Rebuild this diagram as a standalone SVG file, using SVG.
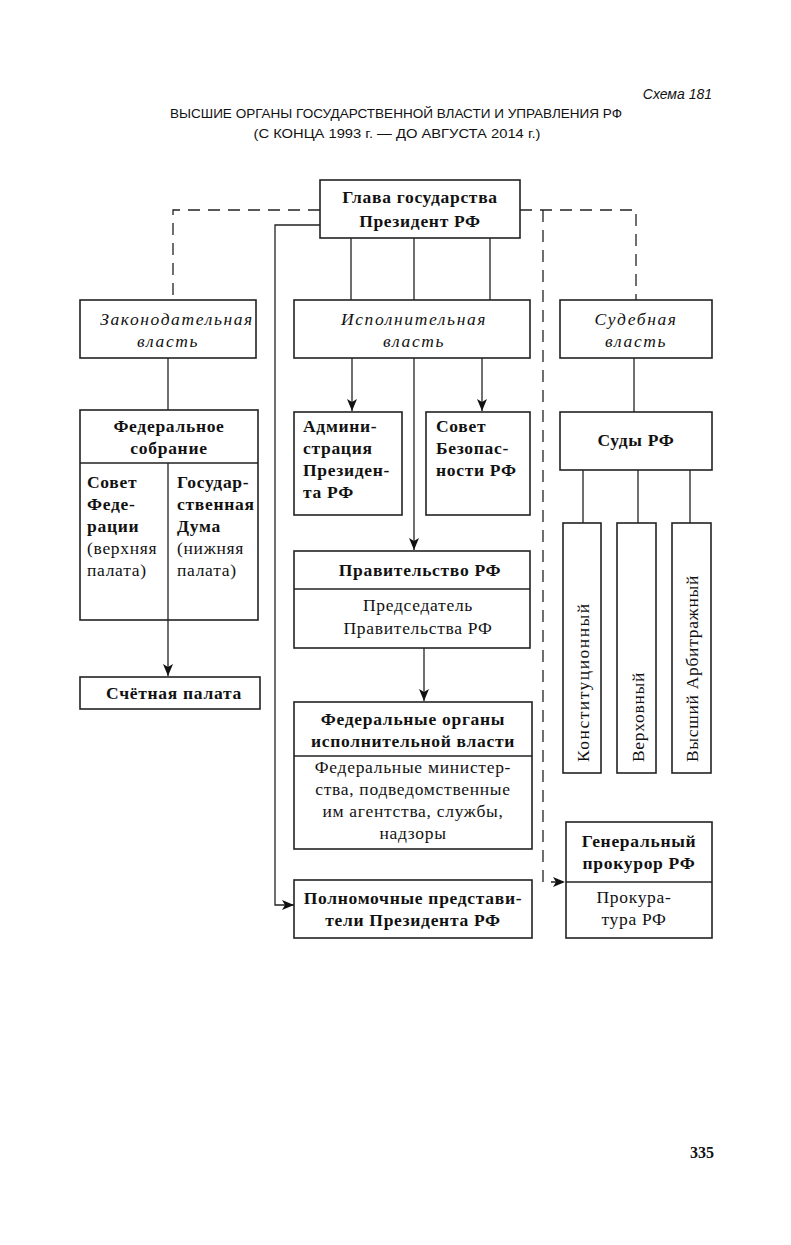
<svg xmlns="http://www.w3.org/2000/svg" width="791" height="1245" viewBox="0 0 791 1245">
<style>
.b{fill:#fff;stroke:#222;stroke-width:1.6}
.l{stroke:#222;stroke-width:1.3;fill:none}
.d{stroke:#222;stroke-width:1.3;fill:none;stroke-dasharray:12 8}
text{font-family:"Liberation Serif","DejaVu Serif",serif;font-size:17.5px;letter-spacing:0.7px;fill:#111}
.bo{font-weight:bold}
.it{font-style:italic;letter-spacing:1.6px}
.c{text-anchor:middle}
.h{font-family:"Liberation Sans","DejaVu Sans",sans-serif;font-size:13px;letter-spacing:0}
</style>
<defs>
<marker id="v" markerWidth="12" markerHeight="14" refX="12" refY="6" orient="auto" markerUnits="userSpaceOnUse" viewBox="0 0 12 12">
<path d="M0,1 L12,6 L0,11 L3,6 Z" fill="#111"/>
</marker>
</defs>
<rect width="791" height="1245" fill="#fff"/>
<g id="title">
<text class="h it" x="712" y="99" text-anchor="end" style="letter-spacing:0;font-size:14px">Схема 181</text>
<text class="h c" x="396" y="118" textLength="452" lengthAdjust="spacingAndGlyphs">ВЫСШИЕ ОРГАНЫ ГОСУДАРСТВЕННОЙ ВЛАСТИ И УПРАВЛЕНИЯ РФ</text>
<text class="h c" x="397" y="138" textLength="287" lengthAdjust="spacingAndGlyphs">(С КОНЦА 1993 г. — ДО АВГУСТА 2014 г.)</text>
</g>
<g id="connectors">
<path class="d" d="M320,210 H173 V300"/>
<path class="d" d="M520,210 H636 V300"/>
<path class="d" d="M543,210 V882 H565" marker-end="url(#v)"/>
<path class="l" d="M320,225 H275 V905 H294" marker-end="url(#v)"/>
<path class="l" d="M351,238 V300 M414,238 V300 M490,238 V300"/>
<path class="l" d="M168,358 V410"/>
<path class="l" d="M168,620 V676" marker-end="url(#v)"/>
<path class="l" d="M352,358 V411" marker-end="url(#v)"/>
<path class="l" d="M482,358 V411" marker-end="url(#v)"/>
<path class="l" d="M414,358 V550" marker-end="url(#v)"/>
<path class="l" d="M424,648 V701" marker-end="url(#v)"/>
<path class="l" d="M634,358 V412"/>
<path class="l" d="M583,470 V523 M638,470 V523 M690,470 V523"/>
</g>
<g id="head">
<rect class="b" x="320" y="180" width="200" height="58"/>
<text class="bo c" x="420" y="203">Глава государства</text>
<text class="bo c" x="420" y="227">Президент РФ</text>
</g>
<g id="legislative">
<rect class="b" x="80" y="300" width="176" height="58"/>
<text class="it c" x="177" y="325">Законодательная</text>
<text class="it c" x="168" y="347">власть</text>
</g>
<g id="executive">
<rect class="b" x="294" y="300" width="236" height="58"/>
<text class="it c" x="414" y="325">Исполнительная</text>
<text class="it c" x="414" y="347">власть</text>
</g>
<g id="judicial">
<rect class="b" x="560" y="300" width="152" height="58"/>
<text class="it c" x="636" y="325">Судебная</text>
<text class="it c" x="636" y="347">власть</text>
</g>
<g id="federal-assembly">
<rect class="b" x="80" y="410" width="178" height="210"/>
<path class="l" d="M80,463 H258 M168,463 V620"/>
<text class="bo c" x="169" y="432">Федеральное</text>
<text class="bo c" x="169" y="454">собрание</text>
<text class="bo" x="87" y="488">Совет</text>
<text class="bo" x="87" y="510">Феде-</text>
<text class="bo" x="87" y="532">рации</text>
<text x="87" y="554">(верхняя</text>
<text x="87" y="576">палата)</text>
<text class="bo" x="177" y="488">Государ-</text>
<text class="bo" x="177" y="510">ственная</text>
<text class="bo" x="177" y="532">Дума</text>
<text x="177" y="554">(нижняя</text>
<text x="177" y="576">палата)</text>
</g>
<g id="audit-chamber">
<rect class="b" x="80" y="677" width="180" height="32"/>
<text class="bo c" x="174" y="699">Счётная палата</text>
</g>
<g id="administration">
<rect class="b" x="294" y="412" width="108" height="103"/>
<text class="bo" x="303" y="432">Админи-</text>
<text class="bo" x="303" y="454">страция</text>
<text class="bo" x="303" y="476">Президен-</text>
<text class="bo" x="303" y="498">та РФ</text>
</g>
<g id="security-council">
<rect class="b" x="426" y="412" width="104" height="103"/>
<text class="bo" x="436" y="432">Совет</text>
<text class="bo" x="436" y="454">Безопас-</text>
<text class="bo" x="436" y="476">ности РФ</text>
</g>
<g id="government">
<rect class="b" x="294" y="551" width="236" height="97"/>
<path class="l" d="M294,589 H530"/>
<text class="bo c" x="420" y="576">Правительство РФ</text>
<text class="c" x="418" y="611">Председатель</text>
<text class="c" x="418" y="634">Правительства РФ</text>
</g>
<g id="federal-bodies">
<rect class="b" x="294" y="702" width="238" height="147"/>
<path class="l" d="M294,756 H532"/>
<text class="bo c" x="413" y="725">Федеральные органы</text>
<text class="bo c" x="413" y="747">исполнительной власти</text>
<text class="c" x="413" y="773">Федеральные министер-</text>
<text class="c" x="413" y="795">ства, подведомственные</text>
<text class="c" x="413" y="817">им агентства, службы,</text>
<text class="c" x="413" y="839">надзоры</text>
</g>
<g id="envoys">
<rect class="b" x="294" y="880" width="238" height="58"/>
<text class="bo c" x="413" y="904">Полномочные представи-</text>
<text class="bo c" x="413" y="926">тели  Президента РФ</text>
</g>
<g id="courts">
<rect class="b" x="560" y="412" width="152" height="58"/>
<text class="bo c" x="636" y="446">Суды РФ</text>
</g>
<g id="constitutional">
<rect class="b" x="563" y="523" width="38" height="250"/>
<text transform="translate(589,762) rotate(-90)" style="letter-spacing:1.5px">Конституционный</text>
</g>
<g id="supreme">
<rect class="b" x="617" y="523" width="39" height="250"/>
<text transform="translate(644,762) rotate(-90)">Верховный</text>
</g>
<g id="arbitration">
<rect class="b" x="672" y="523" width="39" height="250"/>
<text transform="translate(698,762) rotate(-90)">Высший Арбитражный</text>
</g>
<g id="prosecutor">
<rect class="b" x="566" y="822" width="146" height="116"/>
<path class="l" d="M566,882 H712"/>
<text class="bo c" x="639" y="847">Генеральный</text>
<text class="bo c" x="639" y="869">прокурор РФ</text>
<text class="c" x="634" y="903">Прокура-</text>
<text class="c" x="634" y="925">тура РФ</text>
</g>
<text class="bo" x="714" y="1158" text-anchor="end" style="font-size:16px;letter-spacing:0">335</text>
</svg>
